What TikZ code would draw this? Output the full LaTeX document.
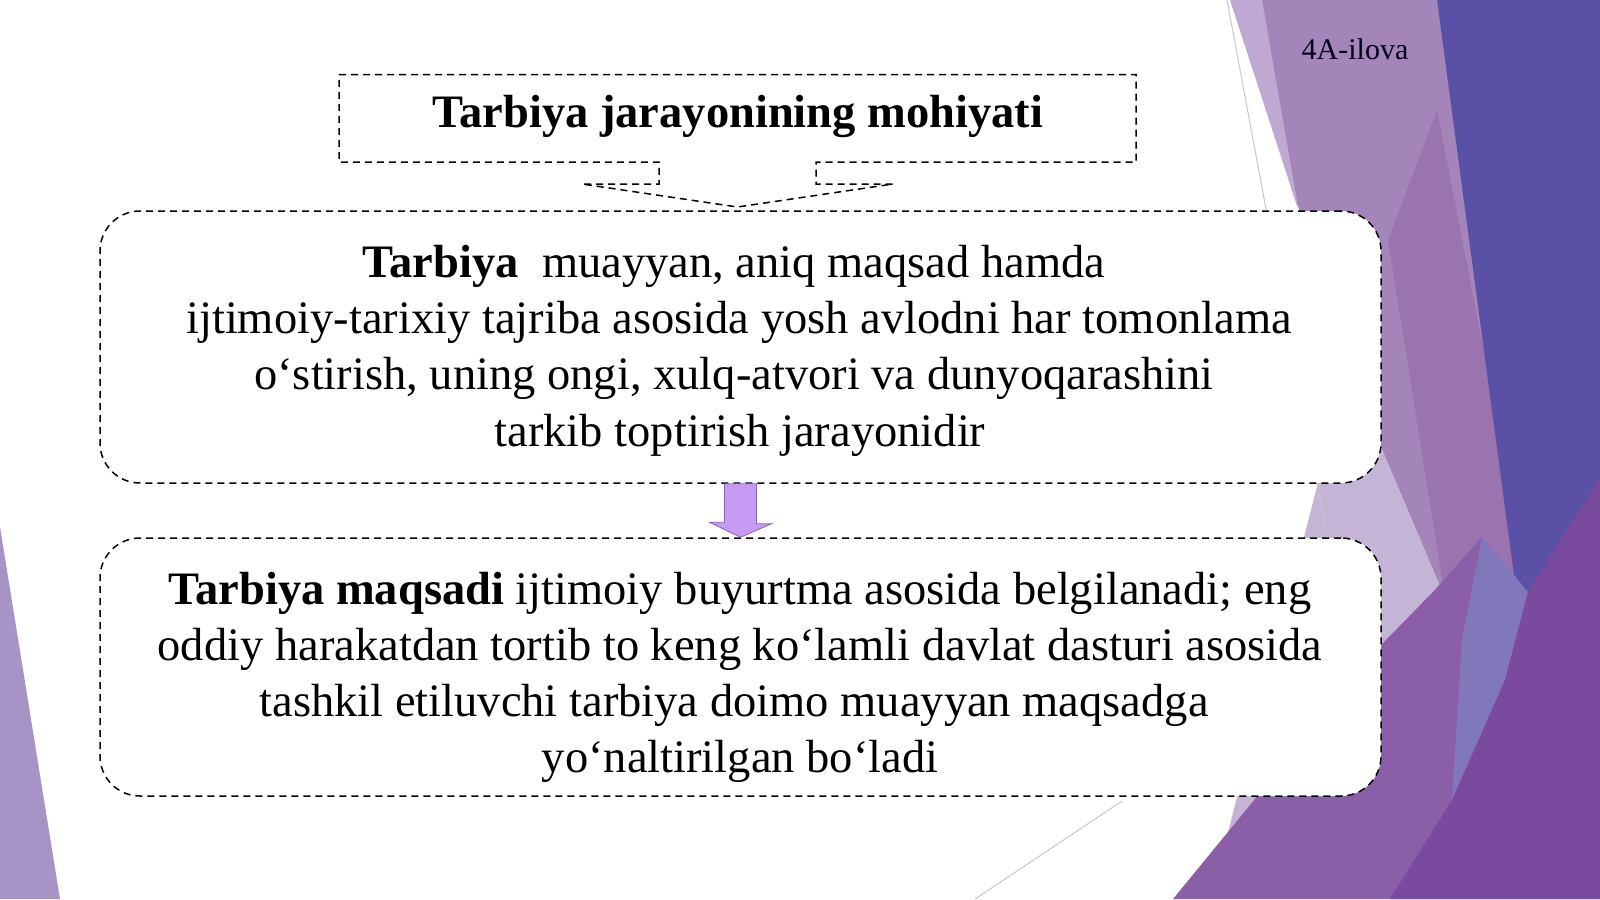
\documentclass[tikz,border=0pt]{standalone}
\usepackage{fontspec}
\setmainfont{Liberation Serif}
\usetikzlibrary{calc}
\definecolor{bgblue}{HTML}{5A51A6}
\definecolor{bgmid}{HTML}{A485BA}
\definecolor{bgdark}{HTML}{9A74AE}
\definecolor{bglav}{HTML}{C4B4D6}
\definecolor{bglite}{HTML}{BFA9D2}
\definecolor{bgpurp}{HTML}{8B5FA8}
\definecolor{bgperi}{HTML}{8078BA}
\definecolor{bgdeep}{HTML}{7A4A9E}
\definecolor{bgleft}{HTML}{A893C6}
\definecolor{arrowfill}{HTML}{C69BF3}
\definecolor{arrowline}{HTML}{8E5FBF}
\begin{document}
\begin{tikzpicture}[x=1pt,y=-1pt,
  dashline/.style={draw=black, line width=1.5pt, dash pattern=on 7pt off 5pt},
  roundbox/.style={dashline, fill=white, rounded corners=40pt, rectangle, inner sep=0pt},
  bodytext/.style={font=\fontsize{46.5}{54}\selectfont, anchor=mid, inner sep=0pt},
  titletext/.style={font=\fontsize{46.5}{54}\selectfont\bfseries, anchor=mid, inner sep=0pt},
  thinline/.style={draw=black!22, line width=1pt}]
\useasboundingbox (0,0) rectangle (1600,899);
\fill[white] (0,0) rectangle (1600,899);
% background shapes
\fill[bglite] (1230,0) -- (1262,0) -- (1300,206) -- (1297,206) -- cycle;
\fill[bgmid] (1262,0) -- (1437,0) -- (1530,590) -- (1445,598) -- (1380,445) -- (1298,206) -- cycle;
\fill[bgdark] (1437,110) -- (1530,590) -- (1445,598) -- (1388,240) -- cycle;
\fill[bgblue] (1437,0) -- (1600,0) -- (1600,620) -- (1520,620) -- cycle;
\fill[bglav] (1320,475) -- (1380,445) -- (1445,598) -- (1226,840) -- cycle;
\fill[bgpurp] (1173,899) -- (1383,643) -- (1433,592) -- (1482,537) -- (1530,595) -- (1600,540) -- (1600,899) -- cycle;
\fill[bgperi] (1482,537) -- (1528,592) -- (1505,680) -- (1452,800) -- (1462,640) -- cycle;
\fill[bgdeep] (1600,478) -- (1528,592) -- (1505,680) -- (1452,800) -- (1390,899) -- (1600,899) -- cycle;
\fill[bgleft] (0,527) -- (60,899) -- (0,899) -- cycle;
\draw[thinline] (1227,0) -- (1325,525);
\draw[thinline] (975,899) -- (1122,801);
% label
\node[font=\fontsize{30}{34}\selectfont, text=black!90!blue, anchor=mid, inner sep=0pt] (ilova) at (1355,57) {4A-ilova};
% title callout box
\draw[dashline, fill=white] (339,74.5) -- (1136,74.5) -- (1136,162) -- (816,162) -- (816,184) -- (893,184) -- (737.5,207) -- (582,184) -- (659,184) -- (659,162) -- (339,162) -- cycle;
\node[titletext] (title) at (738,125) {Tarbiya jarayonining mohiyati};
% boxes
\node[roundbox, minimum width=1281pt, minimum height=272pt] (b1) at (740.5,347) {};
\node[roundbox, minimum width=1281pt, minimum height=258pt] (b2) at (740.5,667) {};
% arrow between boxes
\draw[fill=arrowfill, draw=arrowline, line width=0.8pt] (b1.south) ++(-16,0) -- ++(32,0) -- ++(0,40) -- ++(15,0) -- (b2.north) -- ++(-31,-15) -- ++(15,0) -- cycle;
% box 1 text
\node[bodytext] (t11) at (734,275) {\textbf{Tarbiya}\ \ muayyan, aniq maqsad hamda};
\node[bodytext] (t12) at (739,331) {ijtimoiy-tarixiy tajriba asosida yosh avlodni har tomonlama};
\node[bodytext] (t13) at (734,387) {oʻstirish, uning ongi, xulq-atvori va dunyoqarashini};
\node[bodytext] (t14) at (740,444) {tarkib toptirish jarayonidir};
% box 2 text
\node[bodytext] (t21) at (740,602) {\textbf{Tarbiya maqsadi} ijtimoiy buyurtma asosida belgilanadi; eng};
\node[bodytext] (t22) at (740,658) {oddiy harakatdan tortib to keng koʻlamli davlat dasturi asosida};
\node[bodytext] (t23) at (734,714) {tashkil etiluvchi tarbiya doimo muayyan maqsadga};
\node[bodytext] (t24) at (740,770) {yoʻnaltirilgan boʻladi};
\end{tikzpicture}
\end{document}
